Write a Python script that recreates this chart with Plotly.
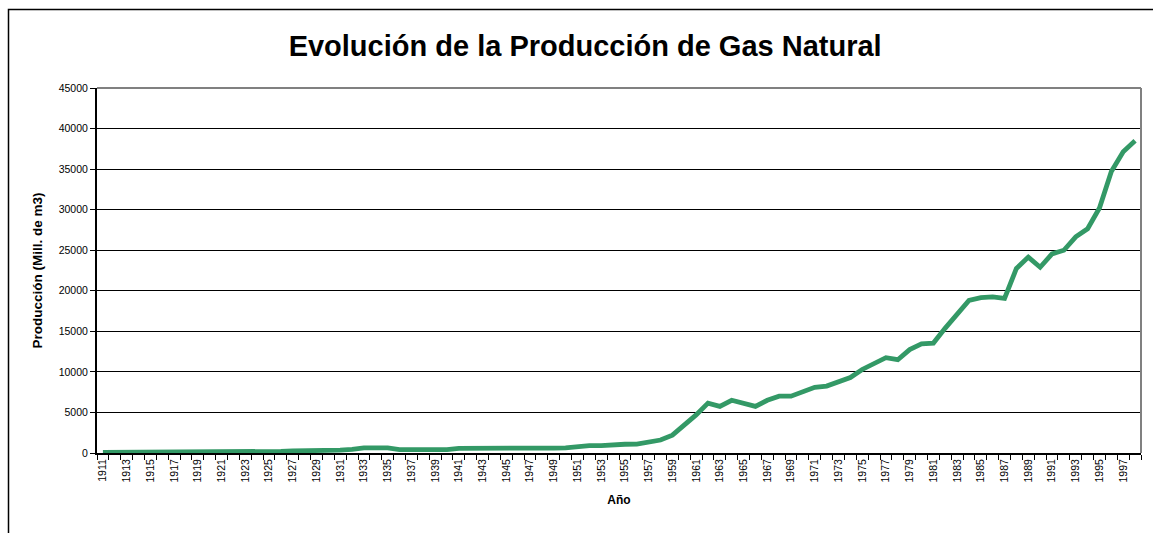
import plotly.graph_objects as go

# Annual natural gas production (millions of m3), 1911-1998
years = list(range(1911, 1999))
produccion = [
    80, 80, 80, 80, 80, 80, 80, 80, 80, 80,            # 1911-1920
    80, 80, 80, 80, 90, 200, 250, 250, 350, 350,       # 1921-1930
    350, 450, 620, 640, 620, 420, 400, 400, 400, 420,  # 1931-1940
    580, 600, 600, 600, 600, 600, 600, 600, 610, 620,  # 1941-1950
    780, 900, 920, 930, 1080, 1100, 1400, 1600, 2200, 3450,  # 1951-1960
    4700, 6150, 5750, 6500, 6100, 5750, 6500, 7000, 7000, 7600,  # 1961-1970
    8100, 8250, 8850, 9300, 10300, 10950, 11750, 11500, 12750, 13450,  # 1971-1980
    13550, 15400, 17150, 18800, 19150, 19250, 19050, 22750, 24150, 22900,  # 1981-1990
    24550, 25000, 26650, 27650, 30200, 34700, 37150, 38500,  # 1991-1998
]
label_years = list(range(1911, 1998, 2))
y_ticks = list(range(0, 45001, 5000))

L, R, T, B = 97, 12, 88, 80
W, H = 1153, 533
pw, ph = W - L - R, H - T - B

def px_x(px):
    return (px - L) / pw

def px_y(py):
    return (H - B - py) / ph

fig = go.Figure()
fig.add_trace(go.Scatter(
    x=years, y=produccion, mode="lines",
    line=dict(color="#339966", width=4.8),
    hoverinfo="x+y", showlegend=False,
))

fig.update_layout(
    width=W, height=H,
    margin=dict(l=L, r=R, t=T, b=B),
    paper_bgcolor="white", plot_bgcolor="white",
    font=dict(family="Liberation Sans, Arial, sans-serif", color="black"),
    title=dict(
        text="<b>Evolución de la Producción de Gas Natural</b>",
        x=0.5075, xanchor="center", y=1 - 46 / H, yanchor="middle",
        font=dict(size=29, color="black"),
    ),
    xaxis=dict(
        range=[1910.5, 1998.5], tickmode="array", tickvals=label_years,
        ticktext=[str(v) for v in label_years], tickangle=-90,
        ticks="", tickfont=dict(size=10.5), showgrid=False, zeroline=False,
        showline=True, linecolor="black", linewidth=2,
        minor=dict(tickmode="array", tickvals=[y - 0.5 for y in range(1911, 2000)],
                   ticks="outside", ticklen=5, tickcolor="black", tickwidth=1,
                   showgrid=False),
        title=dict(text="<b>Año</b>", font=dict(size=12), standoff=14),
    ),
    yaxis=dict(
        range=[0, 45000], tickmode="array", tickvals=y_ticks,
        ticktext=[str(v) for v in y_ticks],
        ticks="outside", ticklen=5, tickcolor="black", tickfont=dict(size=10.5),
        showgrid=True, gridcolor="black", gridwidth=1, zeroline=False,
        showline=True, linecolor="black", linewidth=2,
        title=dict(text="<b>Producción (Mill. de m3)</b>", font=dict(size=13.5), standoff=13),
    ),
)

# Gray border on the top and right of the plot area
fig.add_shape(type="line", xref="paper", yref="paper", x0=0, x1=1, y0=1, y1=1,
              line=dict(color="#808080", width=2))
fig.add_shape(type="line", xref="paper", yref="paper", x0=1, x1=1, y0=0, y1=1,
              line=dict(color="#808080", width=2))

# Outer chart frame
fig.add_shape(type="rect", xref="paper", yref="paper",
              x0=px_x(8.5), x1=px_x(1170), y0=px_y(9.5), y1=px_y(560),
              line=dict(color="black", width=1.5), layer="below")

fig.write_html("out.html")
